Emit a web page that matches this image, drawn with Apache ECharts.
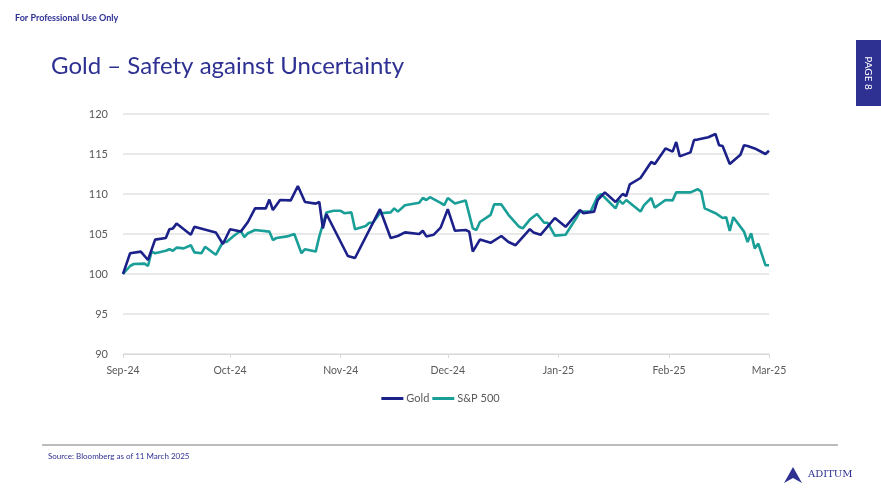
<!DOCTYPE html>
<html>
<head>
<meta charset="utf-8">
<script src="https://cdn.jsdelivr.net/npm/echarts@6/dist/echarts.min.js"></script>
<style>
html,body{margin:0;padding:0;background:#fff;}
#c{width:881px;height:491px;}
</style>
</head>
<body>
<div id="c"></div>
<script>
var goldDates = ['2024-09-01','2024-09-03','2024-09-06','2024-09-08','2024-09-10','2024-09-13','2024-09-14','2024-09-15','2024-09-16','2024-09-20','2024-09-21','2024-09-27','2024-09-29','2024-10-01','2024-10-04','2024-10-06','2024-10-08','2024-10-11','2024-10-12','2024-10-13','2024-10-15','2024-10-18','2024-10-20','2024-10-22','2024-10-25','2024-10-26','2024-10-27','2024-10-28','2024-11-03','2024-11-05','2024-11-12','2024-11-15','2024-11-17','2024-11-19','2024-11-23','2024-11-24','2024-11-25','2024-11-27','2024-11-29','2024-12-01','2024-12-03','2024-12-06','2024-12-07','2024-12-08','2024-12-10','2024-12-13','2024-12-16','2024-12-18','2024-12-20','2024-12-24','2024-12-25','2024-12-27','2024-12-31','2025-01-03','2025-01-07','2025-01-08','2025-01-11','2025-01-12','2025-01-14','2025-01-17','2025-01-19','2025-01-20','2025-01-21','2025-01-24','2025-01-27','2025-01-28','2025-01-31','2025-02-02','2025-02-03','2025-02-04','2025-02-07','2025-02-08','2025-02-09','2025-02-11','2025-02-12','2025-02-14','2025-02-15','2025-02-16','2025-02-18','2025-02-21','2025-02-22','2025-02-23','2025-02-25','2025-02-28','2025-03-01'];
var goldValues = [100,102.6,102.8,101.75,104.3,104.5,105.6,105.7,106.3,104.9,105.9,105.2,103.75,105.6,105.3,106.5,108.2,108.2,109.3,108.0,109.25,109.2,111.0,109.0,108.8,109.0,105.7,107.5,102.25,102.0,108.1,104.5,104.75,105.2,105.0,105.4,104.7,104.9,105.8,108.1,105.4,105.5,105.3,102.8,104.3,103.9,104.75,104.0,103.6,105.6,105.2,104.9,107.0,105.9,108.0,107.6,107.8,109.25,110.2,109.0,110.0,109.75,111.2,112.0,114.0,113.75,115.7,115.3,116.5,114.7,115.2,116.75,116.8,117.0,117.1,117.5,116.1,116.0,113.75,114.9,116.1,116.0,115.7,115.0,115.4];

var spxDates = ['2024-09-01','2024-09-03','2024-09-04','2024-09-07','2024-09-08','2024-09-09','2024-09-10','2024-09-13','2024-09-14','2024-09-15','2024-09-16','2024-09-18','2024-09-20','2024-09-21','2024-09-23','2024-09-24','2024-09-27','2024-09-29','2024-09-30','2024-10-02','2024-10-04','2024-10-05','2024-10-06','2024-10-08','2024-10-12','2024-10-13','2024-10-14','2024-10-17','2024-10-19','2024-10-21','2024-10-22','2024-10-25','2024-10-26','2024-10-28','2024-10-30','2024-11-01','2024-11-02','2024-11-04','2024-11-05','2024-11-08','2024-11-09','2024-11-10','2024-11-12','2024-11-15','2024-11-16','2024-11-17','2024-11-19','2024-11-23','2024-11-24','2024-11-25','2024-11-26','2024-11-29','2024-11-30','2024-12-01','2024-12-03','2024-12-06','2024-12-08','2024-12-09','2024-12-10','2024-12-13','2024-12-14','2024-12-16','2024-12-18','2024-12-21','2024-12-22','2024-12-24','2024-12-26','2024-12-28','2024-12-29','2024-12-31','2025-01-03','2025-01-06','2025-01-07','2025-01-10','2025-01-12','2025-01-13','2025-01-17','2025-01-18','2025-01-19','2025-01-20','2025-01-24','2025-01-25','2025-01-27','2025-01-28','2025-01-31','2025-02-02','2025-02-03','2025-02-07','2025-02-09','2025-02-10','2025-02-11','2025-02-14','2025-02-16','2025-02-17','2025-02-18','2025-02-19','2025-02-22','2025-02-23','2025-02-24','2025-02-25','2025-02-26','2025-02-28','2025-03-01'];
var spxValues = [100,101.0,101.25,101.3,101.0,102.8,102.6,102.9,103.1,102.9,103.3,103.2,103.6,102.7,102.6,103.4,102.4,104.0,104.0,104.75,105.4,104.6,105.1,105.5,105.3,104.25,104.5,104.7,105.0,102.6,103.1,102.8,104.7,107.7,107.9,107.9,107.6,107.7,105.6,106.0,106.4,106.4,107.6,107.7,108.2,107.8,108.6,108.9,109.5,109.25,109.6,108.9,108.6,109.5,108.8,109.2,105.7,105.5,106.5,107.4,108.7,108.7,107.4,105.9,105.7,106.8,107.5,106.4,106.4,104.8,104.9,107.0,107.8,107.8,109.7,110.0,108.2,109.25,108.75,109.25,107.8,108.6,109.5,108.3,109.25,109.2,110.2,110.2,110.6,110.3,108.2,107.6,107.0,107.1,105.4,107.1,105.3,104.0,105.1,103.2,103.8,101.1,101.1];

var seriesNames = ['Gold', 'S&P 500'];
var yTicks = {min: 90, max: 120, interval: 5};
var xRange = ['2024-09-01', '2025-03-01'];
var monthNames = ['Jan','Feb','Mar','Apr','May','Jun','Jul','Aug','Sep','Oct','Nov','Dec'];

function pairs(d, v){ return d.map(function(x,i){ return [x, v[i]]; }); }

var navy = '#2E3192';
var chart = echarts.init(document.getElementById('c'), null, {renderer:'canvas'});
chart.setOption({
  animation: false,
  textStyle: {fontFamily: 'Lato'},
  title: {
    text: 'Gold \u2013 Safety against Uncertainty',
    left: 46, top: 49,
    textStyle: {fontFamily: 'Lato', fontSize: 24, fontWeight: 'normal', color: navy}
  },
  legend: {
    data: seriesNames,
    top: 388, left: 'center',
    itemWidth: 22, itemHeight: 3, itemGap: 3,
    icon: 'rect',
    textStyle: {fontFamily: 'Lato', fontSize: 11, color: '#595959', padding: [0,0,0,-2]}
  },
  grid: {left: 123, right: 112, top: 114, bottom: 137},
  xAxis: {
    type: 'time',
    min: xRange[0], max: xRange[1],
    splitNumber: 6,
    minInterval: 28*86400000,
    axisLine: {lineStyle: {color: '#d9d9d9', width: 1}},
    axisTick: {show: true, length: 4, lineStyle: {color: '#d9d9d9'}},
    splitLine: {show: false},
    axisLabel: {
      color: '#595959', fontSize: 10.5, fontFamily: 'Lato', margin: 11,
      showMinLabel: true, showMaxLabel: true, hideOverlap: false,
      formatter: function(val){
        var d = new Date(val);
        return monthNames[d.getMonth()] + '-' + String(d.getFullYear()).slice(2);
      }
    }
  },
  yAxis: {
    type: 'value',
    min: yTicks.min, max: yTicks.max, interval: yTicks.interval,
    axisLine: {show: false},
    axisTick: {show: false},
    splitLine: {lineStyle: {color: '#e2e2e2', width: 1.5}},
    axisLabel: {color: '#595959', fontSize: 11, fontFamily: 'Lato', margin: 15}
  },
  series: [
    {name: seriesNames[0], type: 'line', data: pairs(goldDates, goldValues), showSymbol: false, symbol: 'none',
     lineStyle: {color: '#1B2189', width: 2.6}, itemStyle: {color: '#1B2189'}, z: 3},
    {name: seriesNames[1], type: 'line', data: pairs(spxDates, spxValues), showSymbol: false, symbol: 'none',
     lineStyle: {color: '#1A9E98', width: 2.6}, itemStyle: {color: '#1A9E98'}, z: 2}
  ],
  graphic: [
    {type: 'text', left: 15, top: 14, style: {text: 'For Professional Use Only', fontFamily: 'Lato', fontSize: 9, fontWeight: 'bold', fill: navy}},
    {type: 'rect', shape: {x: 856, y: 40, width: 25, height: 66}, style: {fill: navy}},
    {type: 'text', x: 868.5, y: 73, rotation: -Math.PI/2, style: {text: 'PAGE 8', fontFamily: 'Lato', fontSize: 10, fill: '#ffffff', align: 'center', verticalAlign: 'middle'}},
    {type: 'line', shape: {x1: 42, y1: 445, x2: 838, y2: 445}, style: {stroke: '#a6a6a6', lineWidth: 1.5}},
    {type: 'text', left: 48, top: 452, style: {text: 'Source: Bloomberg as of 11 March 2025', fontFamily: 'Lato', fontSize: 8, fill: navy}},
    {type: 'polygon', shape: {points: [[784,483],[793,467],[802,483],[793,478]]}, style: {fill: navy}},
    {type: 'text', left: 808, top: 469, style: {text: 'ADITUM', fontFamily: 'DejaVu Serif', fontSize: 10, fill: navy, letterSpacing: 0.8}}
  ]
});
</script>
</body>
</html>
